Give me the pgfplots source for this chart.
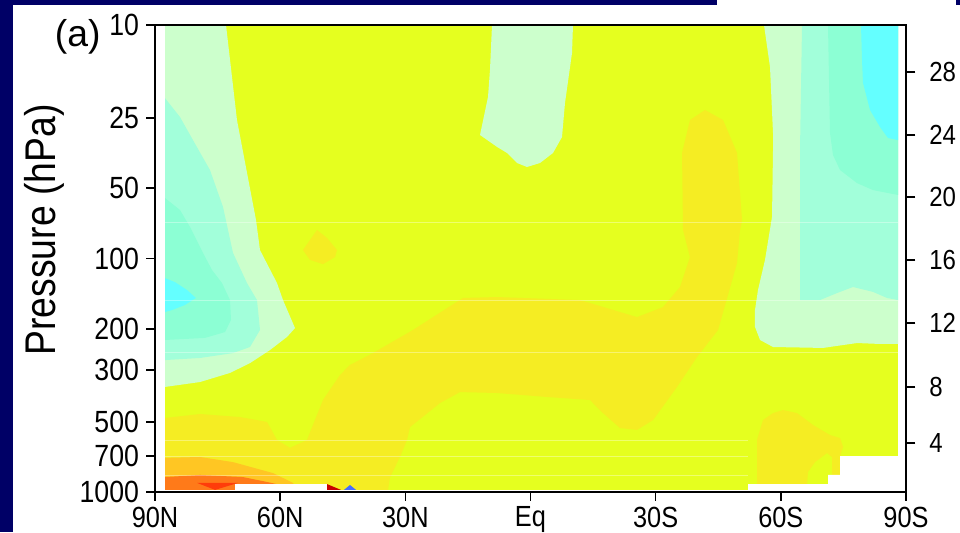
\documentclass[border=0pt]{standalone}
\usepackage{graphicx}
\usepackage{pgfplots}
\pgfplotsset{compat=1.18}
\usepackage{fontspec}
\setmainfont{Liberation Sans}
\newcommand{\tl}[1]{\scalebox{1}[1.15]{#1}}
\definecolor{navybg}{RGB}{0,0,102}
\definecolor{cYG}{RGB}{229,255,31}
\definecolor{cDY}{RGB}{245,237,35}
\definecolor{cOY}{RGB}{255,198,35}
\definecolor{cOR}{RGB}{255,122,25}
\definecolor{cRO}{RGB}{255,60,10}
\definecolor{cDR}{RGB}{200,0,0}
\definecolor{cBL}{RGB}{70,110,255}
\definecolor{cMint}{RGB}{204,255,204}
\definecolor{cAq}{RGB}{162,255,218}
\definecolor{cMAq}{RGB}{140,255,212}
\definecolor{cCy}{RGB}{100,255,255}
\begin{document}
\begin{tikzpicture}
\useasboundingbox (0,0) rectangle (720pt,399pt);
\fill[navybg] (0,0) rectangle (720pt,399pt);
\fill[white] (9.75pt,0) rectangle (720pt,395.25pt);
\fill[white] (537.75pt,395.25pt) rectangle (717pt,399pt);
\begin{axis}[
  at={(116.25pt,30pt)}, anchor=south west,
  scale only axis, width=563.25pt, height=350.25pt,
  xmin=-90, xmax=90, x dir=reverse,
  ymin=1, ymax=3, y dir=reverse,
  xtick={90,60,30,0,-30,-60,-90},
  xticklabels={\tl{90N},\tl{60N},\tl{30N},\tl{Eq},\tl{30S},\tl{60S},\tl{90S}},
  ytick={1,1.39794,1.69897,2,2.30103,2.47712,2.69897,2.84510,3},
  yticklabels={\tl{10},\tl{25},\tl{50},\tl{100},\tl{200},\tl{300},\tl{500},\tl{700},\tl{1000}},
  tick pos=left, tick align=outside, major tick length=6.5pt,
  axis line style={line width=1.2pt},
  tick style={line width=1.2pt, black},
  yticklabel style={font=\fontsize{20}{24}\selectfont, xshift=-2pt},
  xticklabel style={font=\fontsize{19}{23}\selectfont, yshift=-1pt},
  axis on top,
]
% background field
\addplot[fill=cYG, draw=none] coordinates {(87.6,1) (-88.1,1) (-88.1,2.991) (87.6,2.991)};
% NH polar stratosphere
\addplot[fill=cMint, draw=none] coordinates {(87.6,1) (72.98,1) (70.35,1.407) (65.79,1.835) (64.83,1.964) (60.76,2.105) (59.32,2.178) (56.44,2.298) (58.36,2.336) (62.44,2.392) (67.23,2.448) (72.02,2.490) (79.21,2.529) (87.6,2.550)};
\addplot[fill=cAq, draw=none] coordinates {(87.6,1.313) (84.01,1.394) (80.89,1.493) (76.82,1.621) (73.70,1.779) (71.30,1.976) (67.95,2.105) (65.55,2.178) (64.83,2.306) (67.23,2.379) (71.30,2.405) (79.21,2.426) (87.6,2.435)};
\addplot[fill=cMAq, draw=none] coordinates {(87.6,1.741) (84.01,1.792) (81.61,1.865) (78.49,1.976) (76.34,2.049) (73.94,2.105) (72.02,2.178) (71.78,2.263) (73.22,2.315) (78.02,2.340) (87.6,2.349)};
\addplot[fill=cCy, draw=none] coordinates {(87.6,2.084) (85.21,2.101) (82.33,2.135) (80.2,2.169) (82.81,2.199) (85.93,2.221) (87.6,2.229)};
% darker yellow band and tongue
\addplot[fill=cDY, draw=none] coordinates {(87.60,2.683) (79.21,2.666) (69.63,2.679) (63.15,2.700) (60.76,2.777) (57.64,2.811) (53.57,2.777) (52.13,2.713) (49.73,2.606) (45.66,2.499) (43.26,2.456) (37.75,2.405) (28.16,2.306) (16.18,2.169) (8.03,2.165) (-11.87,2.178) (-25.53,2.251) (-31.76,2.208) (-35.84,2.122) (-38.23,1.994) (-36.56,1.878) (-36.32,1.548) (-38.23,1.407) (-41.83,1.364) (-46.15,1.407) (-49.50,1.548) (-50.70,1.835) (-50.22,1.878) (-49.50,2.019) (-44.95,2.306) (-39.91,2.422) (-35.12,2.550) (-29.37,2.692) (-25.53,2.734) (-21.46,2.726) (-17.38,2.662) (-14.27,2.606) (-3.96,2.593) (8.03,2.576) (16.90,2.572) (21.69,2.619) (28.88,2.722) (29.60,2.777) (31.28,2.850) (33.67,2.936) (34.15,2.991) (87.60,2.991)};
\addplot[fill=cDY, draw=none] coordinates {(51.17,1.878) (52.85,1.921) (54.53,1.964) (52.85,2.006) (49.73,2.024) (46.86,1.994) (46.38,1.964) (48.77,1.912)};
% NH surface layers
\addplot[fill=cOY, draw=none] coordinates {(87.6,2.854) (79.21,2.850) (71.30,2.872) (61.72,2.919) (56.92,2.961) (55.96,2.991) (87.6,2.991)};
\addplot[fill=cOR, draw=none] coordinates {(87.6,2.936) (79.21,2.927) (68.91,2.936) (63.15,2.957) (58.84,2.974) (58.84,2.991) (87.6,2.991)};
\addplot[fill=cRO, draw=none] coordinates {(79.9,2.961) (70.1,2.961) (75.6,2.991)};
\addplot[fill=white, draw=none] coordinates {(70.82,2.966) (48.77,2.966) (48.77,3) (70.82,3)};
\addplot[fill=cDR, draw=none] coordinates {(48.77,2.966) (48.77,2.991) (45.42,2.991)};
\addplot[fill=cBL, draw=none] coordinates {(44.70,2.991) (43.26,2.970) (41.82,2.991)};
% tropical stratosphere
\addplot[fill=cMint, draw=none] coordinates {(9.22,1) (-10.19,1) (-9.95,1.120) (-8.27,1.334) (-7.55,1.480) (-5.40,1.548) (-2.28,1.591) (0.84,1.608) (3.23,1.591) (5.63,1.548) (8.03,1.522) (12.10,1.471) (10.18,1.308) (9.71,1.193)};
% SH polar stratosphere
\addplot[fill=cMint, draw=none] coordinates {(-55.97,1) (-88.1,1) (-88.1,2.366) (-83.78,2.366) (-78.26,2.362) (-70.11,2.383) (-58.13,2.379) (-55.02,2.349) (-53.81,2.293) (-53.81,2.221) (-54.53,2.135) (-56.21,2.006) (-57.89,1.822) (-58.13,1.535) (-58.13,1.463) (-57.41,1.180)};
\addplot[fill=cAq, draw=none] coordinates {(-65.08,1) (-88.1,1) (-88.1,2.178) (-85.45,2.169) (-82.10,2.143) (-77.30,2.122) (-73.47,2.148) (-69.39,2.178) (-64.60,2.178) (-64.60,1.535)};
\addplot[fill=cMAq, draw=none] coordinates {(-71.31,1) (-88.1,1) (-88.1,1.728) (-82.10,1.707) (-78.26,1.677) (-74.19,1.621) (-72.51,1.557) (-71.79,1.463) (-71.55,1.236)};
\addplot[fill=cCy, draw=none] coordinates {(-79.22,1) (-88.1,1) (-88.1,1.493) (-85.69,1.484) (-83.78,1.437) (-81.38,1.364) (-79.70,1.248) (-79.46,1.150)};
% SH lower troposphere
\addplot[fill=cDY, draw=none] coordinates {(-54.29,2.966) (-54.29,2.777) (-55.73,2.692) (-58.13,2.662) (-60.53,2.649) (-63.88,2.662) (-67.72,2.713) (-71.79,2.756) (-74.19,2.769) (-74.91,2.807) (-74.19,2.846) (-74.19,2.927) (-72.27,2.927) (-72.27,2.850) (-71.07,2.833) (-68.19,2.872) (-66.52,2.914) (-66.28,2.966)};
\addplot[fill=white, draw=none] coordinates {(-52.14,2.966) (-71.31,2.966) (-71.31,2.927) (-74.19,2.927) (-74.19,2.846) (-88.1,2.846) (-88.1,3) (-52.14,3)};
% faint scan lines
\addplot[white, opacity=0.35, line width=0.5pt] coordinates {(87.6,1.844) (-88.1,1.844)};
\addplot[white, opacity=0.35, line width=0.5pt] coordinates {(87.6,2.178) (-88.1,2.178)};
\addplot[white, opacity=0.35, line width=0.5pt] coordinates {(87.6,2.400) (-88.1,2.400)};
\addplot[white, opacity=0.35, line width=0.5pt] coordinates {(87.6,2.777) (-52.1,2.777)};
\addplot[white, opacity=0.35, line width=0.5pt] coordinates {(87.6,2.846) (-52.1,2.846)};
\addplot[white, opacity=0.35, line width=0.5pt] coordinates {(87.6,2.927) (-52.1,2.927)};
\end{axis}
\begin{axis}[
  at={(116.25pt,30pt)}, anchor=south west,
  scale only axis, width=563.25pt, height=350.25pt,
  xmin=-90, xmax=90, ymin=1, ymax=3, y dir=reverse,
  axis x line=none, axis y line*=right,
  ytick={1.2013,1.4711,1.7366,2.0064,2.2762,2.5503,2.7901},
  yticklabels={\tl{28},\tl{24},\tl{20},\tl{16},\tl{12},\tl{8},\tl{4}},
  tick align=outside, major tick length=7pt,
  axis line style={line width=1.2pt, -},
  tick style={line width=1.2pt, black},
  yticklabel style={font=\fontsize{18}{22}\selectfont, xshift=7pt},
]
\addplot[draw=none] coordinates {(0,2)};
\end{axis}
\node[rotate=90, anchor=base, inner sep=0pt, font=\fontsize{28}{32}\selectfont] at (41.25pt,226.5pt) {\scalebox{1}[1.15]{Pressure (hPa)}};
\node[anchor=base west, inner sep=0pt, font=\fontsize{28}{32}\selectfont] at (41pt,363.75pt) {(a)};
\end{tikzpicture}
\end{document}
